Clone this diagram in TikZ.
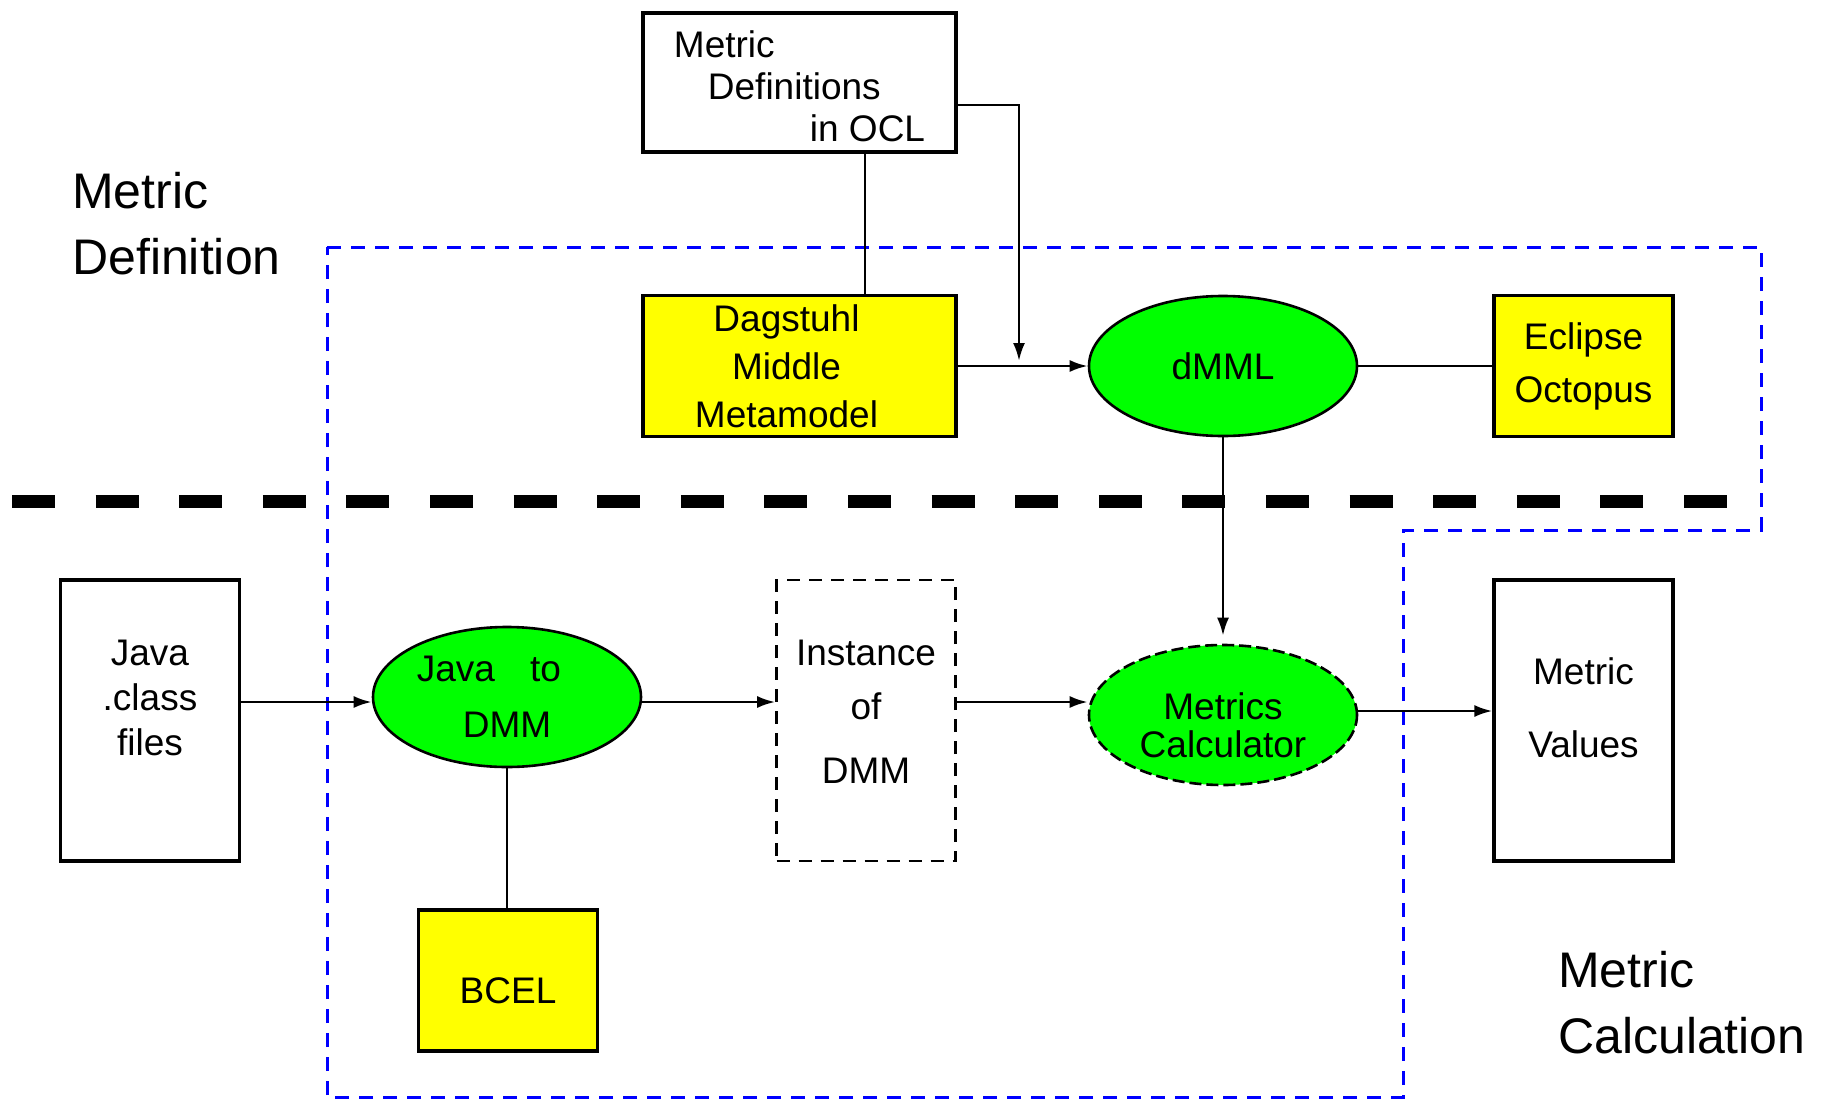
\documentclass[tikz,border=0pt]{standalone}
\usepackage{fontspec}
\setmainfont{Liberation Sans}
\usetikzlibrary{arrows.meta,shapes.geometric}
\definecolor{pyellow}{RGB}{255,255,0}
\definecolor{pgreen}{RGB}{0,255,0}
\definecolor{pblue}{RGB}{0,0,255}
\begin{document}
\begin{tikzpicture}[x=1pt,y=-1pt,
  txt/.style={font=\fontsize{37}{#1}\selectfont},
  wbox/.style={draw, line width=3.2pt, inner sep=0pt, align=center, fill=white},
  ybox/.style={wbox, fill=pyellow},
  dbox/.style={wbox, line width=2.6pt, dash pattern=on 13pt off 9pt},
  ell/.style={ellipse, draw, line width=2.6pt, fill=pgreen, minimum width=268pt,
              minimum height=140pt, inner sep=0pt, align=center},
  big/.style={font=\fontsize{50}{66}\selectfont, inner sep=0pt, align=left, anchor=north west},
  conn/.style={draw, line width=2.6pt},
  arr/.style={conn, -{Latex[length=18pt,width=12pt]}},
  region/.style={draw=pblue, line width=3pt, dash pattern=on 14pt off 10pt},
  divider/.style={draw, line width=13pt, dash pattern=on 43pt off 40.6pt}
]
\useasboundingbox (0,0) rectangle (1823,1100);

% regions
\draw[region] (327,247) -- (1761,247) -- (1761,530) -- (1403,530) -- (1403,1097) -- (327,1097) -- cycle;
\draw[divider] (12,501) -- (1727,501);

% labels
\node[big] (ldef) at (72,172) {Metric\\Definition};
\node[big] (lcalc) at (1558,951) {Metric\\Calculation};

% top row
\node[wbox, txt=42, align=left, minimum width=313pt, minimum height=139pt, text height=119pt] (mdef) at (799.5,82.5)
  {Metric\\\hspace*{34pt}Definitions\\\hspace*{136pt}in OCL};
\node[ybox, txt=48, minimum width=313pt, minimum height=141pt] (dag) at (799.5,366)
  {Dagstuhl\rule{26pt}{0pt}\\Middle\rule{26pt}{0pt}\\Metamodel\rule{26pt}{0pt}};
\node[ell, txt=48] (dmml) at (1223,366) {dMML};
\node[ybox, txt=53, minimum width=179pt, minimum height=141pt] (ecl) at (1583.5,366)
  {Eclipse\\Octopus};

% bottom row
\node[wbox, txt=45, minimum width=179pt, minimum height=281pt] (jf) at (150,720.5)
  {Java\\.class\\files\\\mbox{}};
\node[ell, txt=56] (jdmm) at (507,697) {Java\hspace{0.95em}to\rule{36pt}{0pt}\\DMM};
\node[dbox, txt=58, minimum width=179pt, minimum height=281pt, text depth=18pt] (inst) at (866,720.5)
  {Instance\\[-4pt]of\\[6pt]DMM};
\node[ell, txt=38, dash pattern=on 12pt off 5pt, text height=86pt] (mc) at (1223,715) {Metrics\\Calculator};
\node[wbox, txt=73, minimum width=179pt, minimum height=281pt, text depth=26pt] (mv) at (1583.5,720.5)
  {Metric\\Values};
\node[ybox, txt=40, minimum width=179pt, minimum height=141pt, text height=47pt] (bcel) at (508,980.5) {BCEL};

% connectors
\coordinate (l1) at ([xshift=65.5pt]mdef.south);
\draw[conn] (l1) -- (l1 |- dag.north);
\coordinate (mj) at (1019,361);
\draw[arr] ([yshift=-22.5pt]mdef.east) -| (mj);
\draw[arr] (dag.east) -- (dmml.west);
\draw[conn] (dmml.east) -- (ecl.west);
\draw[arr, shorten >=8pt] (dmml.south) -- (mc.north);

\coordinate (a1) at ([yshift=18.5pt]jf.east);
\draw[arr] (a1) -- (a1 -| jdmm.west);
\draw[arr] (a1 -| jdmm.east) -- (a1 -| inst.west);
\draw[arr] (a1 -| inst.east) -- (a1 -| mc.west);
\coordinate (a2) at ([yshift=4pt]mc.east);
\draw[arr] (a2) -- (a2 -| mv.west);
\draw[conn] (jdmm.south) -- (jdmm.south |- bcel.north);
\end{tikzpicture}
\end{document}
